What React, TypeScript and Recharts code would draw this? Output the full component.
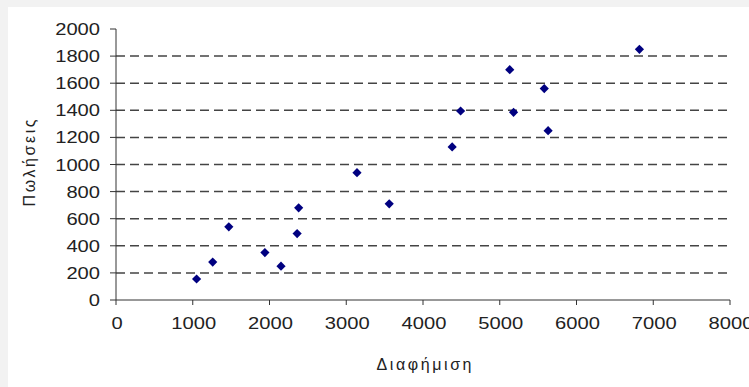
import {
  ScatterChart,
  Scatter,
  XAxis,
  YAxis,
  ReferenceLine,
  Label,
} from 'recharts';

// advertising spend vs. sales
const adSpend = [1050, 1260, 1470, 1940, 2150, 2360, 2380, 3140, 3560, 4380, 4490, 5130, 5180, 5580, 5630, 6820];
const sales = [155, 280, 540, 350, 250, 490, 680, 940, 710, 1130, 1395, 1700, 1385, 1560, 1250, 1850];

const xTicks = [0, 1000, 2000, 3000, 4000, 5000, 6000, 7000, 8000];
const yTicks = [0, 200, 400, 600, 800, 1000, 1200, 1400, 1600, 1800, 2000];
const gridLines = [200, 400, 600, 800, 1000, 1200, 1400, 1600, 1800];

const points = adSpend.map((x, i) => ({ x, y: sales[i] }));

const FONT = '"Liberation Sans", Arial, sans-serif';
const CHAR_W = 11.2;

const YTick = (props: any) => {
  const { x, y, payload } = props;
  const s = String(payload.value);
  return (
    <text
      x={x}
      y={y + 6}
      textAnchor="end"
      fontFamily={FONT}
      fontSize={16}
      fill="#222"
      textLength={s.length * CHAR_W}
      lengthAdjust="spacingAndGlyphs"
    >
      {s}
    </text>
  );
};

const XTick = (props: any) => {
  const { x, y, payload } = props;
  const s = String(payload.value);
  return (
    <text
      x={x + 1}
      y={y + 18}
      textAnchor="middle"
      fontFamily={FONT}
      fontSize={16}
      fill="#222"
      textLength={s.length * CHAR_W}
      lengthAdjust="spacingAndGlyphs"
    >
      {s}
    </text>
  );
};

const Diamond = (props: any) => {
  const { cx, cy } = props;
  const r = 4.6;
  return (
    <polygon
      points={`${cx},${cy - r} ${cx + r},${cy} ${cx},${cy + r} ${cx - r},${cy}`}
      fill="#000080"
    />
  );
};

const YTitle = () => (
  <text
    x={35}
    y={163}
    transform="rotate(-90 35 163)"
    textAnchor="middle"
    fontFamily={FONT}
    fontSize={16}
    fill="#222"
    textLength={87}
    lengthAdjust="spacing"
  >
    Πωλήσεις
  </text>
);

const XTitle = () => (
  <text
    x={424}
    y={370}
    textAnchor="middle"
    fontFamily={FONT}
    fontSize={16}
    fill="#222"
    textLength={95}
    lengthAdjust="spacing"
  >
    Διαφήμιση
  </text>
);

export default function App() {
  return (
    <div style={{ position: 'absolute', left: 0, top: 0, width: 749, height: 387, background: '#f2f2f2' }}>
      <div style={{ position: 'absolute', left: 8, top: 7, right: 0, bottom: 0, background: '#fff' }} />
      <div style={{ position: 'absolute', left: 0, top: 0 }}>
        <ScatterChart width={749} height={387} margin={{ top: 29, right: 19, bottom: 0, left: 0 }}>
          {gridLines.map((v) => (
            <ReferenceLine key={v} y={v} stroke="#444" strokeWidth={1.5} strokeDasharray="9 5" />
          ))}
          <XAxis
            type="number"
            dataKey="x"
            domain={[0, 8000]}
            ticks={xTicks}
            interval={0}
            height={87}
            stroke="#333"
            tickSize={5}
            tickMargin={6}
            tick={<XTick />}
          >
            <Label content={<XTitle />} />
          </XAxis>
          <YAxis
            type="number"
            dataKey="y"
            domain={[0, 2000]}
            ticks={yTicks}
            interval={0}
            width={116}
            stroke="#333"
            tickSize={6}
            tickMargin={10}
            tick={<YTick />}
          >
            <Label content={<YTitle />} />
          </YAxis>
          <Scatter data={points} shape={<Diamond />} isAnimationActive={false} />
        </ScatterChart>
      </div>
    </div>
  );
}
